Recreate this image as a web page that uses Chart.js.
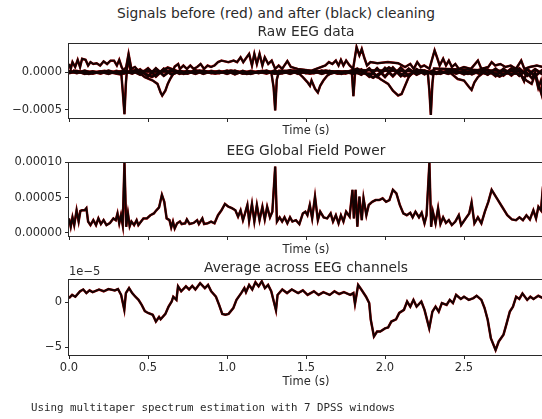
<!DOCTYPE html>
<html>
<head>
<meta charset="utf-8">
<script src="https://cdn.jsdelivr.net/npm/chart.js@4"></script>
<style>
html, body { margin: 0; padding: 0; background: #fff; width: 542px; height: 419px; overflow: hidden; position: relative; font-family: "DejaVu Sans", sans-serif; }
canvas { position: absolute; left: 0; }
#suptitle { position: absolute; left: 0; width: 552px; top: 5px; text-align: center; font-size: 13.8px; color: #2a2a2a; line-height: 16px; }
#note { position: absolute; left: 31px; top: 401px; font-family: "DejaVu Sans Mono", monospace; font-size: 10.8px; color: #2a2a2a; white-space: pre; line-height: 14px; }
</style>
</head>
<body>
<div id="suptitle">Signals before (red) and after (black) cleaning</div>
<canvas id="raw" width="560" height="122" style="top:20px"></canvas>
<canvas id="gfp" width="560" height="121" style="top:140px"></canvas>
<canvas id="avg" width="560" height="135" style="top:258px"></canvas>
<div id="note">Using multitaper spectrum estimation with 7 DPSS windows</div>
<script>
// eixo x (segundos)
const xTicks = [0, 0.5, 1, 1.5, 2, 2.5];
const xTickLabels = ['0.0', '0.5', '1.0', '1.5', '2.0', '2.5'];

// Raw EEG (unidades de 1e-4)
const rawTicks = [-5, 0];
const rawTickLabels = ['\u22120.0005', '0.0000'];

const frontTime = [0.000,0.011,0.022,0.039,0.055,0.070,0.083,0.105,0.121,0.136,
  0.154,0.175,0.197,0.219,0.241,0.263,0.285,0.303,0.318,0.333,
  0.346,0.362,0.377,0.395,0.417,0.439,0.548,0.658,0.669,0.691,
  0.702,0.724,0.746,0.768,0.789,0.811,0.833,0.855,0.877,0.899,
  0.921,0.943,0.965,0.987,1.009,1.042,1.064,1.086,1.103,1.118,
  1.140,1.158,1.173,1.189,1.206,1.224,1.239,1.261,1.283,1.305,
  1.327,1.349,1.382,1.404,1.447,1.535,1.623,1.645,1.667,1.689,
  1.706,1.721,1.737,1.754,1.776,1.798,1.820,1.838,1.853,1.868,
  1.886,1.908,1.952,2.018,2.083,2.127,2.160,2.182,2.204,2.226,
  2.248,2.281,2.314,2.329,2.346,2.368,2.386,2.404,2.423,2.445,
  2.467,2.500,2.544,2.588,2.610,2.654,2.675,2.697,2.730,2.763,
  2.796,2.829,2.862,2.882,2.917,2.961,3.000];
const frontValue = [1.1,0.45,1.35,0.7,1.65,0.7,1.8,1.65,0.9,1.35,
  1.1,1.2,0.9,1.45,1.1,1.55,1.55,0.9,1.65,0.7,
  0.2,0.7,2.45,0.45,0.7,0.2,0.1,0.15,0.75,1.1,
  0.45,0.9,0.45,0.9,0.45,0.7,1.1,0.45,0.9,0.7,
  0.9,1.35,1.55,1.45,1.35,1.55,1.35,2.0,1.35,1.8,
  2.45,0.9,2.45,1.1,2.45,0.9,2.0,1.1,1.55,0.45,
  0.9,0.45,1.5,0.7,0.45,0.2,0.9,1.35,1.1,1.55,
  0.9,1.65,0.9,1.55,0.9,0.45,3.35,2.25,3.1,2.0,
  0.9,1.35,1.2,1.35,1.2,0.7,1.1,0.45,1.35,0.7,
  0.9,0.45,2.9,2.0,0.9,1.8,0.9,1.55,0.7,1.1,
  0.45,0.7,0.45,1.55,0.45,0.7,1.35,0.9,1.1,0.7,
  0.9,0.45,1.55,0.45,0.7,0.9,0.7];

const spikeTime = [0.00,0.30,0.33,0.34,0.351,0.36,0.368,0.377,0.39,1.28,
  1.295,1.305,1.315,1.33,1.79,1.80,1.812,2.27,2.281,2.29,
  2.30,2.31,2.85,2.88,2.895,2.93,2.95,2.97,2.99,3.00];
const spikeValue = [0.1,0.0,0.1,-2.5,-5.6,-1.5,0.6,1.8,0.1,0.05,
  -2.0,-5.1,-1.0,0.2,0.1,-3.2,0.3,0.1,-2.5,-5.7,
  -1.5,0.5,0.1,-1.2,0.0,-0.8,0.0,-1.5,-2.9,-0.5];

const dipTime = [0.00,0.44,0.48,0.53,0.56,0.58,0.59,0.61,0.625,0.64,
  0.66,0.70,1.45,1.48,1.51,1.525,1.535,1.557,1.575,1.59,
  1.61,1.634,1.667,1.93,1.97,2.02,2.05,2.083,2.105,2.127,
  2.15,2.17,2.41,2.46,2.50,2.533,2.548,2.566,2.588,2.62,
  2.85,2.895,2.928,2.95,2.97,2.987,3.00];
const dipValue = [0.05,0.0,-0.65,-1.1,-1.55,-2.7,-3.1,-2.45,-1.55,-0.9,
  -0.2,0.05,-0.05,-0.65,-1.35,-1.8,-1.1,-2.2,-2.7,-1.8,
  -1.1,-0.45,0.0,-0.2,-0.9,-1.55,-2.45,-3.1,-2.9,-1.8,
  -0.65,-0.1,0.0,-0.9,-1.1,-2.0,-2.35,-1.35,-0.65,-0.1,
  -0.2,-1.1,-1.55,-0.3,-2.1,-1.1,-2.2];

// canais de fundo (faixa grossa perto do zero)
const bandA = [0.15,-0.1,0.2,-0.15,0.1,-0.2,0.15,-0.1,0.2,-0.3,
  0.5,-0.55,0.45,-0.3,0.2,-0.15,0.25,-0.2,0.15,-0.1,
  0.2,-0.25,0.15,-0.2,0.1,-0.15,0.2,-0.1,0.25,-0.2,
  0.15,-0.1,0.2,-0.2,0.1,-0.15,0.2,-0.3,0.5,-0.6,
  0.55,-0.5,0.6,-0.55,0.4,-0.25,0.2,-0.2,0.25,-0.15,
  0.2,-0.25,0.2,-0.3,0.45,-0.4,0.5,-0.45,0.4,-0.5,
  0.35];
const bandB = [-0.1,0.15,-0.2,0.1,-0.15,0.2,-0.1,0.2,-0.15,0.35,
  -0.55,0.5,-0.45,0.35,-0.2,0.15,-0.2,0.2,-0.1,0.15,
  -0.2,0.2,-0.15,0.15,-0.1,0.2,-0.15,0.15,-0.2,0.2,
  -0.1,0.15,-0.2,0.15,-0.15,0.1,-0.2,0.35,-0.55,0.5,
  -0.6,0.6,-0.5,0.45,-0.3,0.2,-0.25,0.15,-0.2,0.2,
  -0.25,0.2,-0.2,0.35,-0.5,0.45,-0.4,0.5,-0.45,0.4,
  -0.3];
const bandC = [0.2,-0.2,0.15,-0.25,0.3,-0.6,0.6,-0.2,0.2,-0.15,
  0.2,-0.2,0.15,-0.2,0.2,-0.15,0.2,-0.2,0.45,-0.7,
  0.6,-0.5,0.3,-0.2,0.25,-0.2,0.5,-0.55,0.5,-0.45];
const bandTime = bandA.map((_, i) => i * 0.05);
const bandCTime = bandC.map((_, i) => 0.025 + i * 0.1);

// Global Field Power (unidades de 1e-5)
const gfpTicks = [0, 5, 10];
const gfpTickLabels = ['0.00000', '0.00005', '0.00010'];
const gfpTime = [0.000,0.011,0.022,0.033,0.048,0.061,0.072,0.083,0.099,0.110,
  0.121,0.136,0.154,0.171,0.186,0.202,0.219,0.237,0.259,0.281,
  0.296,0.307,0.318,0.329,0.340,0.351,0.362,0.373,0.384,0.395,
  0.412,0.428,0.439,0.456,0.471,0.493,0.515,0.537,0.553,0.570,
  0.588,0.603,0.618,0.636,0.647,0.658,0.669,0.684,0.702,0.713,
  0.735,0.746,0.763,0.789,0.811,0.822,0.844,0.855,0.877,0.899,
  0.921,0.943,0.965,0.987,1.009,1.031,1.053,1.070,1.086,1.101,
  1.114,1.129,1.140,1.158,1.173,1.189,1.206,1.224,1.239,1.254,
  1.272,1.287,1.305,1.316,1.333,1.349,1.364,1.382,1.399,1.414,
  1.436,1.458,1.480,1.496,1.509,1.524,1.539,1.557,1.575,1.590,
  1.612,1.634,1.656,1.671,1.689,1.706,1.721,1.737,1.754,1.776,
  1.794,1.803,1.814,1.825,1.838,1.853,1.864,1.882,1.897,1.919,
  1.941,1.963,1.985,2.007,2.028,2.050,2.072,2.094,2.116,2.138,
  2.160,2.175,2.193,2.215,2.232,2.250,2.263,2.281,2.292,2.303,
  2.320,2.336,2.351,2.368,2.386,2.404,2.423,2.445,2.467,2.482,
  2.511,2.533,2.548,2.566,2.588,2.610,2.632,2.654,2.675,2.708,
  2.741,2.774,2.803,2.829,2.851,2.873,2.895,2.917,2.939,2.956,
  2.971,2.987,3.000];
const gfpValue = [2.05,0.86,2.2,1.1,3.2,1.6,3.1,3.2,3.2,3.5,
  1.6,1.1,1.8,1.1,2.05,1.25,1.8,1.1,1.4,2.05,
  1.8,2.75,1.35,2.5,1.1,9.9,0.86,2.75,0.95,1.6,
  1.1,1.8,1.1,1.6,2.05,2.05,2.5,2.75,3.2,3.6,
  5.4,4.4,2.05,1.8,0.76,1.6,0.62,1.35,1.6,1.25,
  1.35,1.9,1.25,1.4,1.8,1.25,2.05,1.25,1.35,1.6,
  1.35,2.5,3.2,4.1,3.7,3.5,3.2,2.3,3.2,1.8,
  2.75,3.95,1.7,4.1,1.6,3.95,1.8,3.7,1.9,3.7,
  2.2,3.0,9.4,1.6,2.2,1.6,2.2,1.35,2.2,1.6,
  1.8,1.25,2.75,3.0,2.5,3.95,2.05,5.15,1.8,3.0,
  2.2,2.05,2.75,1.6,2.5,1.35,2.5,1.6,3.0,2.3,
  6.1,2.05,6.1,0.86,5.15,1.8,4.9,2.5,3.95,4.4,
  4.65,4.65,4.9,4.4,4.65,6.1,5.6,3.95,2.75,2.5,
  2.85,2.2,3.0,2.2,2.85,1.35,2.5,9.9,0.86,3.0,
  1.35,3.5,1.25,2.2,1.4,1.8,1.1,1.6,2.5,1.1,
  2.05,2.75,4.3,1.35,2.2,1.35,3.0,4.4,6.1,4.9,
  3.7,2.5,1.9,1.8,2.2,1.8,2.5,1.9,3.2,2.05,
  3.7,3.2,6.6];

// media entre canais (unidades de 1e-5)
const avgTicks = [-5, 0];
const avgTickLabels = ['\u22125', '0'];
const avgTime = [0,0.02,0.04,0.07,0.09,0.11,0.13,0.15,0.19,0.22,
  0.25,0.29,0.31,0.33,0.35,0.36,0.38,0.40,0.42,0.44,
  0.46,0.48,0.50,0.53,0.55,0.57,0.58,0.61,0.63,0.65,
  0.66,0.68,0.69,0.71,0.74,0.76,0.78,0.80,0.83,0.86,
  0.88,0.90,0.93,0.95,0.97,0.99,1.01,1.04,1.06,1.09,
  1.11,1.12,1.14,1.16,1.18,1.20,1.22,1.24,1.26,1.28,
  1.31,1.32,1.35,1.38,1.41,1.45,1.48,1.51,1.55,1.58,
  1.61,1.65,1.68,1.71,1.74,1.78,1.80,1.81,1.83,1.85,
  1.88,1.90,1.91,1.93,1.95,1.97,2.00,2.02,2.04,2.07,
  2.09,2.12,2.14,2.16,2.18,2.20,2.23,2.25,2.28,2.30,
  2.32,2.34,2.36,2.39,2.41,2.43,2.45,2.48,2.50,2.53,
  2.56,2.58,2.61,2.63,2.65,2.67,2.70,2.72,2.75,2.77,
  2.79,2.81,2.83,2.85,2.87,2.90,2.92,2.94,2.97,3.00];
const avgValue = [0.44,0.8,0.6,1.2,1.4,1.0,1.3,1.1,1.4,1.2,
  1.45,1.3,1.45,0.8,-0.85,1.0,1.55,1.0,0.6,0.25,
  -0.3,-1.0,-1.2,-1.4,-2.15,-1.65,-1.9,-1.3,-0.5,0.07,
  0.6,0.25,1.75,1.2,1.75,1.4,1.8,1.4,2.1,1.55,
  1.9,1.2,0.6,-0.3,-1.3,-1.4,-1.3,-0.65,0.25,1.0,
  1.55,1.1,1.9,1.4,2.2,1.75,2.3,1.55,1.9,1.2,
  -0.9,0.8,1.4,1.0,1.4,1.0,1.3,0.8,1.2,0.8,
  1.1,0.8,1.2,0.9,1.1,0.8,1.0,-0.2,1.9,1.4,
  0.6,-0.1,-1.95,-3.8,-3.25,-3.25,-2.9,-2.8,-2.15,-1.9,
  -1.2,-0.85,0.07,-0.5,0.25,-0.5,0.07,-0.85,-2.9,-1.05,
  -0.5,-1.05,-0.1,-0.3,0.25,-0.1,0.8,0.35,0.6,0.25,
  0.45,0.7,0.25,-0.65,-1.95,-4.0,-5.3,-4.35,-3.6,-2.35,
  -1.05,-0.5,0.6,0.35,0.95,0.25,0.6,0.35,0.7,0.44];

const TEXT = '#2a2a2a';
const FONT = '"DejaVu Sans"';

// desenha moldura, titulo do painel e o fator de escala
const framePlugin = {
  id: 'frame',
  afterDraw(chart, args, opts) {
    const a = chart.chartArea;
    const ctx = chart.ctx;
    ctx.save();
    ctx.strokeStyle = TEXT;
    ctx.lineWidth = 1;
    ctx.strokeRect(Math.round(a.left) - 0.5, Math.round(a.top) + 0.5, Math.round(a.right - a.left) + 1, Math.round(a.bottom - a.top));
    ctx.fillStyle = TEXT;
    ctx.font = '13.8px ' + FONT;
    ctx.textAlign = 'center';
    ctx.textBaseline = 'alphabetic';
    ctx.fillText(opts.title, (a.left + a.right) / 2, a.top - 7);
    if (opts.offset) {
      ctx.font = '11.5px ' + FONT;
      ctx.textAlign = 'left';
      ctx.fillText(opts.offset, a.left, a.top - 4);
    }
    ctx.restore();
  }
};

// cada trace: preto (depois) por cima, vermelho (antes) por baixo
// (Chart.js desenha o dataset 0 por ultimo)
function traces(list) {
  const black = [];
  const red = [];
  list.forEach(([t, v, w]) => {
    const pts = t.map((x, i) => ({ x: x, y: v[i] }));
    const lw = w || 1.9;
    black.push({ data: pts, borderColor: '#140303', borderWidth: lw, pointRadius: 0, tension: 0, fill: false });
    red.push({ data: pts, borderColor: '#9a0000', borderWidth: lw + 0.6, pointRadius: 0, tension: 0, fill: false });
  });
  return black.concat(red);
}

function makeChart(id, datasets, cfg) {
  return new Chart(document.getElementById(id), {
    type: 'line',
    data: { datasets: datasets },
    plugins: [framePlugin],
    options: {
      responsive: false,
      animation: false,
      events: [],
      layout: { padding: { top: cfg.padTop, right: 17, left: 0, bottom: 0 } },
      plugins: { legend: { display: false }, tooltip: { enabled: false }, frame: { title: cfg.title, offset: cfg.offset } },
      scales: {
        x: {
          type: 'linear', min: 0, max: 3.0,
          afterBuildTicks: s => { s.ticks = xTicks.map(v => ({ value: v })); },
          afterFit: s => { s.height = cfg.xH; },
          ticks: { color: TEXT, font: { family: FONT, size: 11.5 }, padding: 2, maxRotation: 0,
            callback: (v, i) => cfg.showX ? xTickLabels[i] : '' },
          grid: { drawOnChartArea: false, drawTicks: true, tickLength: 4, color: TEXT },
          border: { display: false },
          title: { display: true, text: 'Time (s)', color: TEXT, font: { family: FONT, size: 11.5 }, padding: { top: 2, bottom: 4 } }
        },
        y: {
          min: cfg.yMin, max: cfg.yMax,
          afterBuildTicks: s => { s.ticks = cfg.yTicks.map(v => ({ value: v })); },
          afterFit: s => { s.width = 69; },
          ticks: { color: TEXT, font: { family: FONT, size: 11.5 }, padding: 3,
            callback: (v, i) => cfg.yLabels[i] },
          grid: { drawOnChartArea: false, drawTicks: true, tickLength: 4, color: TEXT },
          border: { display: false }
        }
      }
    }
  });
}

makeChart('raw', traces([[bandTime, bandA, 2.4], [bandTime, bandB, 2.4], [bandCTime, bandC, 2.4], [dipTime, dipValue], [frontTime, frontValue], [spikeTime, spikeValue]]), {
  padTop: 23, xH: 24, showX: false, title: 'Raw EEG data',
  yMin: -6.1, yMax: 3.9, yTicks: rawTicks, yLabels: rawTickLabels
});

makeChart('gfp', traces([[gfpTime, gfpValue]]), {
  padTop: 22, xH: 25, showX: false, title: 'EEG Global Field Power',
  yMin: -0.45, yMax: 10.05, yTicks: gfpTicks, yLabels: gfpTickLabels
});

makeChart('avg', traces([[avgTime, avgValue]]), {
  padTop: 21, xH: 38, showX: true, title: 'Average across EEG channels', offset: '1e\u22125',
  yMin: -5.85, yMax: 2.56, yTicks: avgTicks, yLabels: avgTickLabels
});
</script>
</body>
</html>
